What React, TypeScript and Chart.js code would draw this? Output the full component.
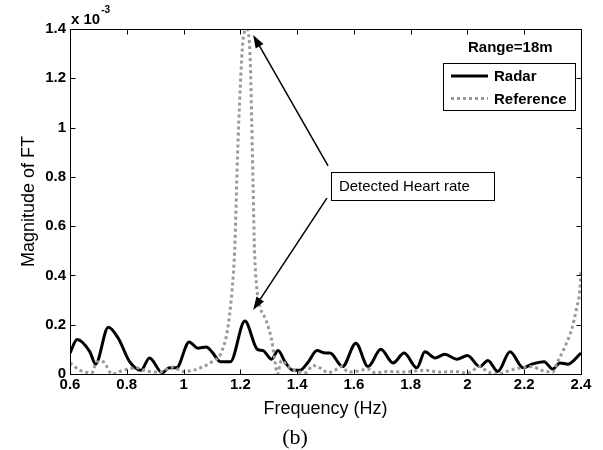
import React, { useEffect, useRef } from "react";
import { Chart, registerables } from "chart.js";

Chart.register(...registerables);

// Magnitudes are in units of 1e-3 (axis multiplier "x 10^-3")
const radarFreq = [0.6, 0.625, 0.67, 0.69, 0.735, 0.77, 0.81, 0.85, 0.88, 0.925, 0.95, 0.975, 1.02, 1.05, 1.08, 1.1, 1.13, 1.165, 1.216, 1.26, 1.28, 1.31, 1.333, 1.357, 1.385, 1.41, 1.44, 1.47, 1.5, 1.516, 1.56, 1.607, 1.65, 1.695, 1.738, 1.777, 1.822, 1.85, 1.886, 1.92, 1.963, 2.0, 2.044, 2.072, 2.107, 2.15, 2.196, 2.227, 2.27, 2.3, 2.326, 2.354, 2.4];
const radarMag = [0.085, 0.14, 0.09, 0.04, 0.19, 0.145, 0.05, 0.015, 0.065, 0.005, 0.025, 0.025, 0.13, 0.105, 0.11, 0.09, 0.05, 0.05, 0.215, 0.1, 0.095, 0.06, 0.095, 0.05, 0.015, 0.015, 0.05, 0.095, 0.085, 0.085, 0.03, 0.125, 0.03, 0.1, 0.045, 0.085, 0.025, 0.09, 0.065, 0.08, 0.06, 0.075, 0.03, 0.055, 0.01, 0.09, 0.025, 0.04, 0.05, 0.02, 0.045, 0.04, 0.085];

const refFreq = [0.6, 0.635, 0.677, 0.695, 0.716, 0.748, 0.787, 0.835, 0.87, 0.917, 0.963, 0.998, 1.033, 1.07, 1.1, 1.13, 1.155, 1.17, 1.18, 1.19, 1.2, 1.21, 1.222, 1.234, 1.24, 1.245, 1.25, 1.258, 1.27, 1.29, 1.31, 1.32, 1.33, 1.345, 1.368, 1.39, 1.43, 1.456, 1.48, 1.51, 1.533, 1.558, 1.58, 1.614, 1.65, 1.674, 1.72, 1.77, 1.85, 1.9, 1.956, 2.0, 2.044, 2.07, 2.107, 2.15, 2.19, 2.227, 2.26, 2.3, 2.318, 2.343, 2.367, 2.385, 2.396, 2.4];
const refMag = [0.045, 0.015, 0.005, 0.05, 0.05, 0.0, 0.015, 0.025, 0.012, 0.008, 0.028, 0.01, 0.015, 0.03, 0.05, 0.08, 0.18, 0.33, 0.5, 0.88, 1.17, 1.36, 1.4, 1.3, 1.03, 0.76, 0.5, 0.35, 0.27, 0.22, 0.14, 0.07, 0.0, 0.055, 0.03, 0.015, 0.005, 0.035, 0.025, 0.005, 0.015, 0.03, 0.008, 0.012, 0.02, 0.005, 0.01, 0.008, 0.015, 0.008, 0.01, 0.003, 0.03, 0.01, 0.0, 0.015, 0.025, 0.03, 0.015, 0.008, 0.05, 0.11, 0.18, 0.27, 0.34, 0.42];

const xTicks = [0.6, 0.8, 1.0, 1.2, 1.4, 1.6, 1.8, 2.0, 2.2, 2.4];
const yTicks = [0, 0.2, 0.4, 0.6, 0.8, 1.0, 1.2, 1.4];
const seriesLabels = ["Radar", "Reference"];
const seriesColors = ["#000000", "#999999"];
const rangeLabel = "Range=18m";
const calloutLabel = "Detected Heart rate";
const xTitle = "Frequency (Hz)";
const yTitle = "Magnitude of FT";
const caption = "(b)";
const multiplierBase = "x 10";
const multiplierExp = "-3";

// callout anchor (top-left of box) and arrow tails/tips, in data coordinates
const calloutAt = [1.519, 0.82];
const arrowTails = [[1.509, 0.845], [1.505, 0.714]];
const arrowTips = [[1.245, 1.376], [1.245, 0.26]];

const SANS = '"Liberation Sans", Arial, Helvetica, sans-serif';
const fmt = (v: number) => String(parseFloat(v.toFixed(1)));

function drawArrow(ctx: CanvasRenderingContext2D, x0: number, y0: number, x1: number, y1: number) {
  const ang = Math.atan2(y1 - y0, x1 - x0);
  const hl = 13, hw = 4.5;
  const bx = x1 - hl * Math.cos(ang), by = y1 - hl * Math.sin(ang);
  ctx.beginPath();
  ctx.moveTo(x0, y0);
  ctx.lineTo(bx, by);
  ctx.lineWidth = 1.5;
  ctx.stroke();
  ctx.beginPath();
  ctx.moveTo(x1, y1);
  ctx.lineTo(bx + hw * Math.sin(ang), by - hw * Math.cos(ang));
  ctx.lineTo(bx - hw * Math.sin(ang), by + hw * Math.cos(ang));
  ctx.closePath();
  ctx.fill();
}

const overlay = {
  id: "overlay",
  afterDatasetsDraw(chart: any) {
    const { ctx, chartArea: a, scales } = chart;
    const xs = scales.x, ys = scales.y;
    ctx.save();
    ctx.strokeStyle = "#000";
    ctx.fillStyle = "#000";
    ctx.lineWidth = 1;
    const L = Math.round(a.left) + 0.5, T = Math.round(a.top) + 0.5;
    const R = Math.round(a.right) + 0.5, B = Math.round(a.bottom) + 0.5;
    ctx.strokeRect(L, T, R - L, B - T);
    const tl = 5;
    ctx.beginPath();
    xTicks.forEach((v) => {
      const px = Math.round(xs.getPixelForValue(v)) + 0.5;
      ctx.moveTo(px, B); ctx.lineTo(px, B - tl);
      ctx.moveTo(px, T); ctx.lineTo(px, T + tl);
    });
    yTicks.forEach((v) => {
      const py = Math.round(ys.getPixelForValue(v)) + 0.5;
      ctx.moveTo(L, py); ctx.lineTo(L + tl, py);
      ctx.moveTo(R, py); ctx.lineTo(R - tl, py);
    });
    ctx.stroke();

    // multiplier
    ctx.textBaseline = "alphabetic";
    ctx.textAlign = "left";
    ctx.font = `bold 15px ${SANS}`;
    ctx.fillText(multiplierBase, a.left + 1, a.top - 5);
    const w = ctx.measureText(multiplierBase).width;
    ctx.font = `bold 10px ${SANS}`;
    ctx.fillText(multiplierExp, a.left + 2 + w, a.top - 16);

    // range label
    ctx.font = `bold 15px ${SANS}`;
    ctx.textBaseline = "middle";
    ctx.fillText(rangeLabel, a.right - 113, a.top + 19);

    // legend
    const lx = a.right - 138, ly = a.top + 34, lw = 132, lh = 47;
    ctx.fillStyle = "#fff";
    ctx.fillRect(lx, ly, lw, lh);
    ctx.strokeStyle = "#000";
    ctx.lineWidth = 1;
    ctx.strokeRect(Math.round(lx) + 0.5, Math.round(ly) + 0.5, lw, lh);
    seriesLabels.forEach((lab, i) => {
      const yy = ly + 13 + i * 22.5;
      ctx.save();
      ctx.strokeStyle = seriesColors[i];
      ctx.lineWidth = 3;
      if (i === 1) ctx.setLineDash([3, 3]);
      ctx.beginPath();
      ctx.moveTo(lx + 8, yy);
      ctx.lineTo(lx + 45, yy);
      ctx.stroke();
      ctx.restore();
      ctx.fillStyle = "#000";
      ctx.font = `bold 15px ${SANS}`;
      ctx.textBaseline = "middle";
      ctx.fillText(lab, lx + 51, yy + 1);
    });

    // callout box + arrows
    const bx = xs.getPixelForValue(calloutAt[0]);
    const by = ys.getPixelForValue(calloutAt[1]);
    ctx.font = `15px ${SANS}`;
    const tw = ctx.measureText(calloutLabel).width;
    const bw = Math.round(tw + 32), bh = 28;
    ctx.fillStyle = "#fff";
    ctx.fillRect(bx, by, bw, bh);
    ctx.strokeStyle = "#000";
    ctx.lineWidth = 1;
    ctx.strokeRect(Math.round(bx) + 0.5, Math.round(by) + 0.5, bw, bh);
    ctx.fillStyle = "#000";
    ctx.textBaseline = "middle";
    ctx.fillText(calloutLabel, bx + 8, by + bh / 2 + 1);
    arrowTails.forEach((t, i) => {
      drawArrow(ctx,
        xs.getPixelForValue(t[0]), ys.getPixelForValue(t[1]),
        xs.getPixelForValue(arrowTips[i][0]), ys.getPixelForValue(arrowTips[i][1]));
    });

    // axis titles
    ctx.fillStyle = "#000";
    ctx.font = `18px ${SANS}`;
    ctx.textAlign = "center";
    ctx.textBaseline = "middle";
    ctx.fillText(xTitle, (a.left + a.right) / 2, a.bottom + 35);
    ctx.save();
    ctx.translate(29, (a.top + a.bottom) / 2);
    ctx.rotate(-Math.PI / 2);
    ctx.fillText(yTitle, 0, 0);
    ctx.restore();
    ctx.font = `22px "Liberation Serif", "Times New Roman", serif`;
    ctx.fillText(caption, 295, 438);
    ctx.restore();
  },
};

export default function App() {
  const ref = useRef<HTMLCanvasElement | null>(null);
  useEffect(() => {
    document.body.style.margin = "0";
    const canvas = ref.current;
    if (!canvas) return;
    const chart = new Chart(canvas, {
      type: "line",
      data: {
        datasets: [
          {
            label: seriesLabels[0],
            data: radarFreq.map((f, i) => ({ x: f, y: radarMag[i] })),
            borderColor: seriesColors[0],
            borderWidth: 3,
            pointRadius: 0,
            cubicInterpolationMode: "monotone",
            fill: false,
            order: 1,
          },
          {
            label: seriesLabels[1],
            data: refFreq.map((f, i) => ({ x: f, y: refMag[i] })),
            borderColor: seriesColors[1],
            borderWidth: 3,
            borderDash: [3, 3],
            pointRadius: 0,
            cubicInterpolationMode: "monotone",
            fill: false,
            order: 0,
          },
        ],
      },
      options: {
        animation: false,
        responsive: false,
        devicePixelRatio: 1,
        layout: { padding: { left: 0, right: 22, top: 29, bottom: 0 } },
        plugins: { legend: { display: false }, tooltip: { enabled: false } },
        scales: {
          x: {
            type: "linear",
            min: 0.6,
            max: 2.4,
            grid: { display: false, drawTicks: false },
            border: { display: false },
            afterBuildTicks: (s: any) => { s.ticks = xTicks.map((v) => ({ value: v })); },
            afterFit: (s: any) => { s.height = 76; },
            ticks: {
              autoSkip: false,
              maxRotation: 0,
              padding: 2,
              color: "#000",
              font: { family: SANS, size: 15, weight: "bold" },
              callback: (v: any) => fmt(Number(v)),
            },
          },
          y: {
            type: "linear",
            min: 0,
            max: 1.4,
            grid: { display: false, drawTicks: false },
            border: { display: false },
            afterBuildTicks: (s: any) => { s.ticks = yTicks.map((v) => ({ value: v })); },
            afterFit: (s: any) => { s.width = 70; },
            ticks: {
              padding: 4,
              color: "#000",
              font: { family: SANS, size: 15, weight: "bold" },
              callback: (v: any) => fmt(Number(v)),
            },
          },
        },
      },
      plugins: [overlay],
    } as any);
    return () => chart.destroy();
  }, []);
  return (
    <div style={{ width: 603, height: 450, background: "#fff" }}>
      <canvas ref={ref} width={603} height={450} style={{ display: "block" }} />
    </div>
  );
}
